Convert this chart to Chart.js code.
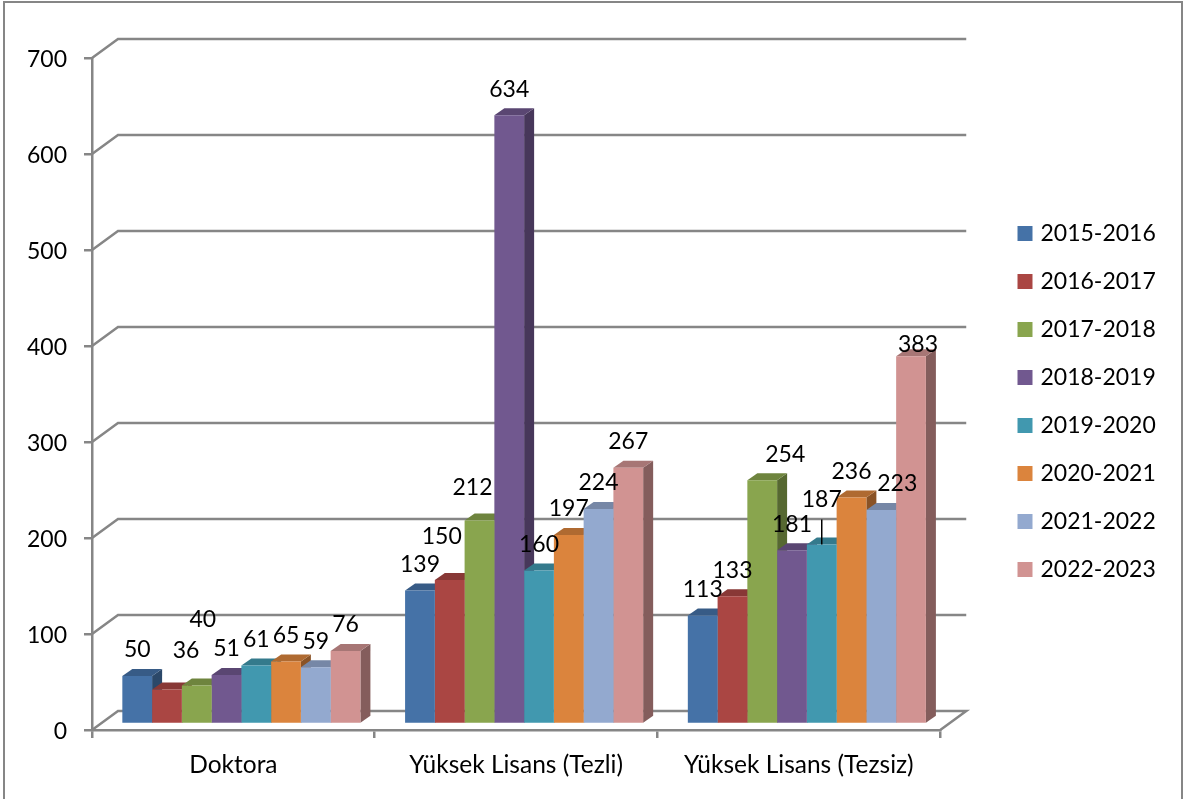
<!DOCTYPE html>
<html>
<head>
<meta charset="utf-8">
<style>
  html, body { margin: 0; padding: 0; background: #fff; overflow: hidden; }
  canvas { display: block; }
</style>
<script src="https://cdn.jsdelivr.net/npm/chart.js@4/dist/chart.umd.min.js"></script>
</head>
<body>
<canvas id="grafico" width="1188" height="799"></canvas>
<script>
var categories = ['Doktora', 'Yüksek Lisans (Tezli)', 'Yüksek Lisans (Tezsiz)']
var years = ['2015-2016', '2016-2017', '2017-2018', '2018-2019', '2019-2020', '2020-2021', '2021-2022', '2022-2023']
var y2015 = [50, 139, 113]
var y2016 = [36, 150, 133]
var y2017 = [40, 212, 254]
var y2018 = [51, 634, 181]
var y2019 = [61, 160, 187]
var y2020 = [65, 197, 236]
var y2021 = [59, 224, 223]
var y2022 = [76, 267, 383]
var series = [y2015, y2016, y2017, y2018, y2019, y2020, y2021, y2022]
var yTicks = [0, 100, 200, 300, 400, 500, 600, 700]

var colors = ['#4572a7', '#aa4643', '#89a54e', '#71588f', '#4198af', '#db843d', '#93a9cf', '#d19392']
var gridColor = '#868686'
var fontName = 'Lato, Carlito, sans-serif'
var fontSize = 23
var categoryFontSize = 24.5

// fake 3d, excel style
var wallDx = 26, wallDy = 19
var barShiftX = 8, barShiftY = -6
var depthX = 10, depthY = 7

// labels that were dragged by hand in the original: 'dataset:category': [dx, dy]
var labelMoves = {
  '1:0': [19, -13],
  '2:0': [6, -40],
  '1:1': [-8, -17],
  '2:1': [-7, -7],
  '2:2': [23, 0],
  '4:2': [0, -19],
  '6:2': [16, 0],
  '7:2': [7, 14]
}
var leaderLabels = ['4:2']

function shade (hex, f) {
  var n = parseInt(hex.slice(1), 16)
  var r = Math.round((n >> 16) * f)
  var g = Math.round(((n >> 8) & 255) * f)
  var b = Math.round((n & 255) * f)
  return 'rgb(' + r + ',' + g + ',' + b + ')'
}

function poly (ctx, pts, fill) {
  ctx.beginPath()
  ctx.moveTo(pts[0][0], pts[0][1])
  pts.slice(1).forEach((p) => ctx.lineTo(p[0], p[1]))
  ctx.closePath()
  ctx.fillStyle = fill
  ctx.fill()
}

var frame = {
  id: 'frame',
  beforeDraw: (chart) => {
    var ctx = chart.ctx
    ctx.save()
    ctx.strokeStyle = gridColor
    ctx.lineWidth = 2
    ctx.beginPath()
    ctx.moveTo(4, 799)
    ctx.lineTo(4, 2)
    ctx.lineTo(1182, 2)
    ctx.lineTo(1182, 799)
    ctx.stroke()
    ctx.restore()
  }
}

var walls = {
  id: 'walls',
  beforeDatasetsDraw: (chart) => {
    var ctx = chart.ctx
    var area = chart.chartArea
    ctx.save()
    ctx.strokeStyle = gridColor
    ctx.lineWidth = 2.5
    yTicks.forEach((t) => {
      var y = chart.scales.y.getPixelForValue(t)
      ctx.beginPath()
      ctx.moveTo(area.left, y)
      ctx.lineTo(area.left + wallDx, y - wallDy)
      ctx.lineTo(area.right + wallDx, y - wallDy)
      if (t === 0) ctx.lineTo(area.right, y)
      ctx.stroke()
    })
    ctx.restore()
  }
}

// sides and tops go first, left to right, the front faces of the library cover them
var bars3d = {
  id: 'bars3d',
  beforeDatasetsDraw: (chart) => {
    var ctx = chart.ctx
    ctx.save()
    ctx.translate(barShiftX, barShiftY)
    categories.forEach((name, c) => {
      series.forEach((values, d) => {
        var bar = chart.getDatasetMeta(d).data[c]
        var color = colors[d]
        var x0 = bar.x - bar.width / 2
        var x1 = bar.x + bar.width / 2
        poly(ctx, [[x1, bar.y], [x1 + depthX, bar.y - depthY], [x1 + depthX, bar.base - depthY], [x1, bar.base]], shade(color, 0.63))
        poly(ctx, [[x0, bar.y], [x0 + depthX, bar.y - depthY], [x1 + depthX, bar.y - depthY], [x1, bar.y]], shade(color, 0.8))
      })
    })
    ctx.restore()
  },
  beforeDatasetDraw: (chart) => {
    chart.ctx.save()
    chart.ctx.translate(barShiftX, barShiftY)
  },
  afterDatasetDraw: (chart) => {
    chart.ctx.restore()
  }
}

var barLabels = {
  id: 'barLabels',
  afterDatasetsDraw: (chart) => {
    var ctx = chart.ctx
    ctx.save()
    ctx.font = fontSize + 'px ' + fontName
    ctx.fillStyle = '#000'
    ctx.textAlign = 'center'
    ctx.textBaseline = 'middle'
    series.forEach((values, d) => {
      var meta = chart.getDatasetMeta(d)
      values.forEach((v, c) => {
        var bar = meta.data[c]
        var key = d + ':' + c
        var move = labelMoves[key] || [0, 0]
        var x = bar.x + barShiftX + move[0]
        var y = bar.y + barShiftY - 26 + move[1]
        ctx.fillText(String(v), x, y)
        if (leaderLabels.indexOf(key) >= 0) {
          ctx.strokeStyle = '#000'
          ctx.lineWidth = 1.5
          ctx.beginPath()
          ctx.moveTo(x, y + 20)
          ctx.lineTo(x, bar.y + barShiftY)
          ctx.stroke()
        }
      })
    })
    ctx.restore()
  }
}

// the legend sits apart from the plot in the original, y labels hang a bit under their ticks
var placeFix = {
  id: 'placeFix',
  afterLayout: (chart) => {
    var legend = chart.legend
    var dx = 996 - legend.left
    var dy = -27
    legend.left += dx
    legend.right += dx
    legend.top += dy
    legend.bottom += dy
    chart.scales.y.getLabelItems(chart.chartArea).forEach((item) => {
      item.options.translation[1] += 2
    })
  }
}

var datasets = years.map((year, i) => {
  return {
    label: year,
    data: series[i],
    backgroundColor: colors[i],
    borderWidth: 0,
    clip: false,
    barPercentage: 1,
    categoryPercentage: 0.842
  }
})

new Chart(document.getElementById('grafico'), {
  type: 'bar',
  data: { labels: categories, datasets: datasets },
  plugins: [frame, walls, bars3d, barLabels, placeFix],
  options: {
    responsive: false,
    animation: false,
    layout: { padding: { top: 58, right: 78, left: 0, bottom: 0 } },
    plugins: {
      tooltip: { enabled: false },
      legend: {
        position: 'right',
        labels: {
          boxWidth: 8,
          boxHeight: 8,
          padding: 25,
          color: '#000',
          font: { family: fontName, size: fontSize },
          // thick outline makes the swatch 15px while the text stays close to it
          generateLabels: (chart) => {
            return Chart.defaults.plugins.legend.labels.generateLabels(chart).map((item) => {
              item.lineWidth = 7
              item.strokeStyle = item.fillStyle
              return item
            })
          }
        }
      }
    },
    scales: {
      x: {
        afterFit: (s) => { s.height = 69 },
        grid: { drawOnChartArea: false, color: gridColor, lineWidth: 2.5, tickLength: 8 },
        border: { color: gridColor, width: 2.5 },
        ticks: { color: '#000', padding: 12, maxRotation: 0, font: { family: fontName, size: categoryFontSize } }
      },
      y: {
        min: 0,
        max: 700,
        afterFit: (s) => { s.width = 92 },
        grid: { drawOnChartArea: false, color: gridColor, lineWidth: 2.5, tickLength: 8 },
        border: { color: gridColor, width: 2.5 },
        ticks: { color: '#000', padding: 17, stepSize: 100, font: { family: fontName, size: fontSize } }
      }
    }
  }
})
</script>
</body>
</html>
